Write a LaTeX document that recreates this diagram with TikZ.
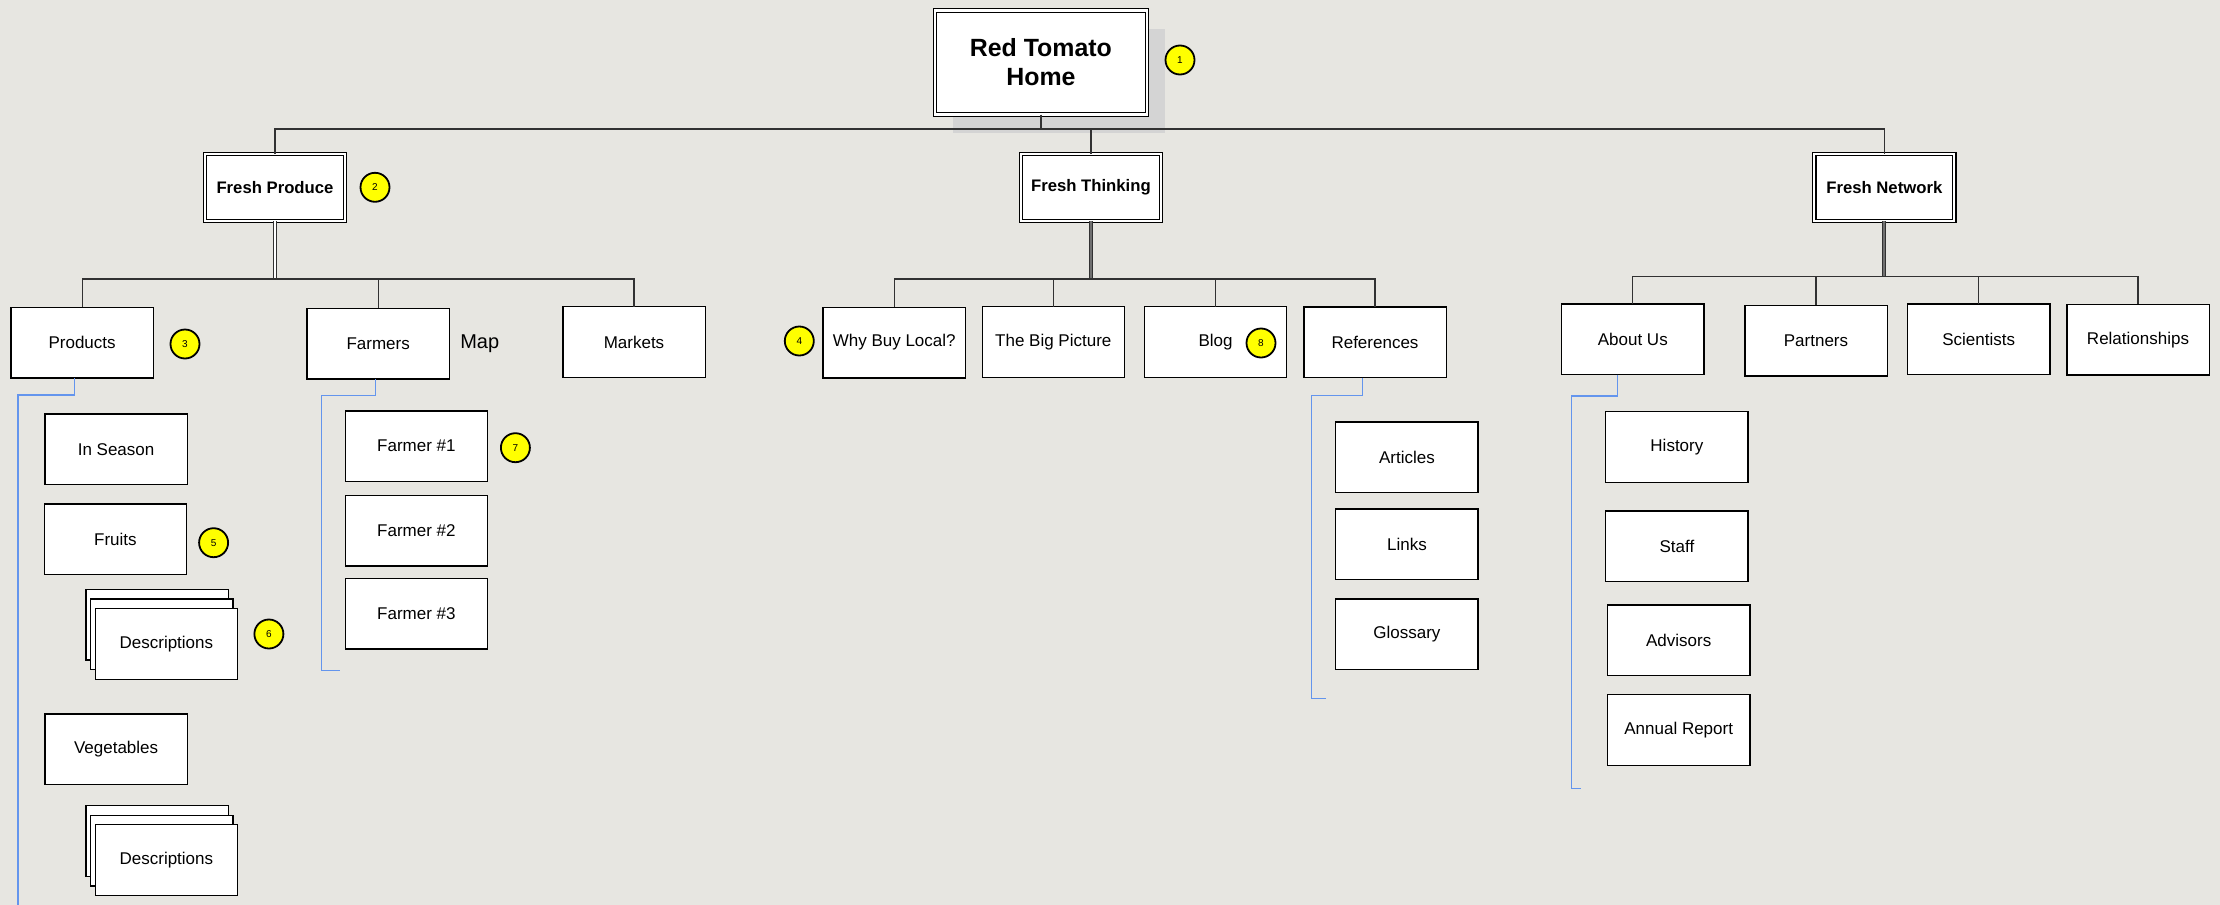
\documentclass[tikz,border=0pt]{standalone}
\usepackage{fontspec}
\setmainfont{Liberation Sans}
\usetikzlibrary{positioning, shadows}
\definecolor{paper}{RGB}{231,230,225}
\definecolor{linkgray}{RGB}{50,50,50}
\definecolor{navblue}{RGB}{100,149,237}
\definecolor{shadowgray}{RGB}{212,212,212}
\definecolor{badgeyellow}{RGB}{255,255,0}
\tikzset{
  page/.style={rectangle, draw=black, line width=1.3pt, fill=white, minimum width=142.3pt, minimum height=70.7pt, inner sep=0pt, outer sep=0pt, font=\fontsize{17}{20}\selectfont},
  section/.style={rectangle, draw=black, double=white, double distance=2.2pt, line width=1.1pt, fill=white, minimum width=140pt, minimum height=67pt, inner sep=0pt, outer sep=0pt, font=\bfseries\fontsize{16.7}{19}\selectfont},
  homepage/.style={section, minimum width=212pt, minimum height=104pt, align=center, font=\bfseries\fontsize{24.9}{29}\selectfont, drop shadow={shadow xshift=18pt, shadow yshift=-18pt, fill=shadowgray, opacity=1}},
  badge/.style={circle, draw=black, line width=1.8pt, fill=badgeyellow, minimum size=29pt, inner sep=0pt, font=\fontsize{10}{10}\selectfont},
  link/.style={draw=linkgray, line width=1.2pt},
  trunk/.style={draw=linkgray, line width=1.2pt, double=#1, double distance=1.8pt},
  trunk/.default=white,
  nav/.style={draw=navblue, line width=1.3pt}
}

\begin{document}
\begin{tikzpicture}[x=1pt, y=-1pt]

% page and frame
\fill[paper] (0,0) rectangle (2220,905);
\useasboundingbox (0,0) rectangle (2220,905);

% bus heights
\coordinate (topbus) at (0,129);
\coordinate (fpbus) at (0,279);
\coordinate (fnbus) at (0,276.7);

% Home
\node[homepage] (home) at (1040.9,62.5) {Red Tomato\\Home};
\node[badge] (b1) at (1180,60) {1};

% Sections
\node[section] (fp) at (275,187.5) {Fresh Produce};
\node[section] (ft) at (1090.9,187.6) {Fresh Thinking};
\node[section] (fn) at (1884.3,187.6) {Fresh Network};
\node[badge] (b2) at (375,187.3) {2};

\draw[link] (home.south) -- (home.south |- topbus);
\draw[link] (fp.north) -- (fp.north |- topbus) -- (fn.north |- topbus) -- (fn.north);
\draw[link] (ft.north) -- (ft.north |- topbus);

% Fresh Produce pages
\node[page] (products) at (82.1,342.7) {Products};
\node[page] (farmers) at (378.2,343.5) {Farmers};
\node[page] (markets) at (634,342) {Markets};
\node[badge] (b3) at (185,344) {3};
\node[right=10.7pt of farmers, inner sep=0pt, font=\fontsize{20}{22}\selectfont] (map) {Map};

\draw[trunk] (fp.south) -- (fp.south |- fpbus);
\draw[link] (products.north) -- (products.north |- fpbus) -- (markets.north |- fpbus) -- (markets.north);
\draw[link] (farmers.north) -- (farmers.north |- fpbus);

% Products
\node[page] (inseason) at (116.1,449.3) {In Season};
\node[page] (fruits) at (115.4,539.3) {Fruits};
\node[badge] (b5) at (213.6,542.7) {5};
\node[page] (fruitdesc3) at (157.1,624.7) {};
\node[page] (fruitdesc2) at (161.8,634.3) {};
\node[page] (fruitdesc) at (166.4,644) {Descriptions};
\node[badge] (b6) at (268.9,634) {6};
\node[page] (vegetables) at (116.1,749.3) {Vegetables};
\node[page] (vegdesc3) at (157.1,841) {};
\node[page] (vegdesc2) at (161.8,850.7) {};
\node[page] (vegdesc) at (166.4,860) {Descriptions};

\coordinate (prodend) at (17.9,905);
\draw[nav] ([xshift=-7.8pt]products.south) -- ++(0,17) -| (prodend);

% Farmers
\node[page] (farmer1) at (416.4,446.2) {Farmer \#1};
\node[page] (farmer2) at (416.4,530.7) {Farmer \#2};
\node[page] (farmer3) at (416.4,613.5) {Farmer \#3};
\node[badge] (b7) at (515.4,447.7) {7};

\coordinate (farmend) at (321.8,670.7);
\draw[nav] ([xshift=-2.5pt]farmers.south) -- ++(0,16.7) -| (farmend) -- ++(18.2,0);

% Fresh Thinking pages
\node[page] (whylocal) at (894.2,342.5) {Why Buy Local?};
\node[page] (bigpicture) at (1053.3,341.9) {The Big Picture};
\node[page] (blog) at (1215.6,341.9) {Blog};
\node[page] (refs) at (1375,342.2) {References};
\node[badge] (b4) at (799.3,341) {4};
\node[badge] (b8) at (1261,343) {8};

\draw[trunk=linkgray!70] (ft.south) -- (ft.south |- fpbus);
\draw[link] (whylocal.north) -- (whylocal.north |- fpbus) -- (refs.north |- fpbus) -- (refs.north);
\draw[link] (bigpicture.north) -- (bigpicture.north |- fpbus);
\draw[link] (blog.north) -- (blog.north |- fpbus);

% References
\node[page] (articles) at (1406.9,457.3) {Articles};
\node[page] (links) at (1406.9,544.3) {Links};
\node[page] (glossary) at (1406.9,634.2) {Glossary};

\coordinate (refend) at (1311.8,698.3);
\draw[nav] ([xshift=-12.3pt]refs.south) -- ++(0,17.7) -| (refend) -- ++(14.2,0);

% Fresh Network pages
\node[page] (about) at (1632.8,339.3) {About Us};
\node[page] (partners) at (1816,340.7) {Partners};
\node[page] (scientists) at (1978.7,339.2) {Scientists};
\node[page] (relations) at (2138,339.7) {Relationships};

\draw[trunk=linkgray!70] (fn.south) -- (fn.south |- fnbus);
\draw[link] (about.north) -- (about.north |- fnbus) -- (relations.north |- fnbus) -- (relations.north);
\draw[link] (partners.north) -- (partners.north |- fnbus);
\draw[link] (scientists.north) -- (scientists.north |- fnbus);

% About Us
\node[page] (history) at (1676.9,446.9) {History};
\node[page] (staff) at (1676.9,546.2) {Staff};
\node[page] (advisors) at (1678.7,640.3) {Advisors};
\node[page] (annual) at (1678.7,730) {Annual Report};

\coordinate (aboutend) at (1571.7,788.3);
\draw[nav] ([xshift=-15.6pt]about.south) -- ++(0,21.4) -| (aboutend) -- ++(9.6,0);

\end{tikzpicture}
\end{document}
